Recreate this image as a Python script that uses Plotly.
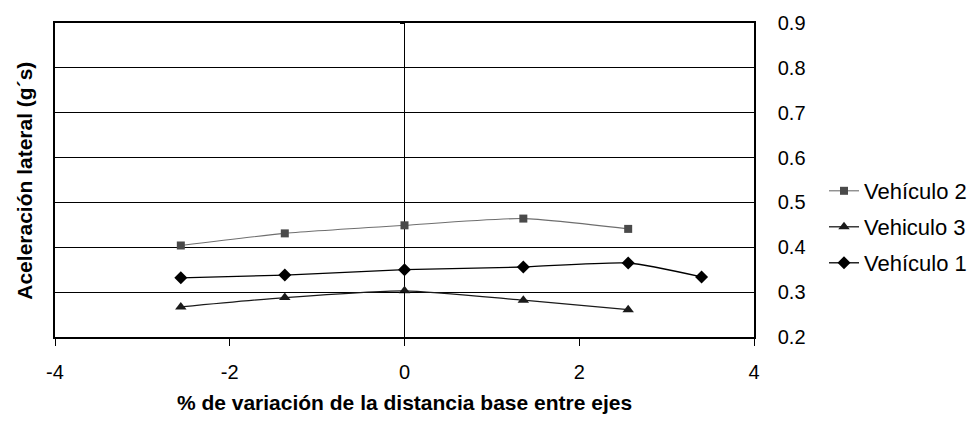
import plotly.graph_objects as go

x_vals = [-2.56, -1.37, 0.0, 1.36, 2.56]
x_v1 = [-2.56, -1.37, 0.0, 1.36, 2.56, 3.40]
v2 = [0.404, 0.431, 0.449, 0.464, 0.441]
v3 = [0.267, 0.288, 0.303, 0.282, 0.261]
v1 = [0.332, 0.338, 0.350, 0.356, 0.365, 0.334]
names = ["Vehículo 2", "Vehiculo 3", "Vehículo 1"]

FONT = "Liberation Sans, Arial, sans-serif"
W, H = 969, 423

fig = go.Figure()
fig.add_trace(go.Scatter(x=x_vals, y=v2, name=names[0], mode="lines+markers",
                         line=dict(color="#6e6e6e", width=1.1, shape="spline", smoothing=0.6),
                         marker=dict(symbol="square", size=8, color="#4a4a4a"), legend="legend"))
fig.add_trace(go.Scatter(x=x_vals, y=v3, name=names[1], mode="lines+markers",
                         line=dict(color="#1a1a1a", width=1.3, shape="spline", smoothing=0.6),
                         marker=dict(symbol="triangle-up", size=10, color="#1a1a1a"), legend="legend2"))
fig.add_trace(go.Scatter(x=x_v1, y=v1, name=names[2], mode="lines+markers",
                         line=dict(color="#000000", width=1.3, shape="spline", smoothing=0.6),
                         marker=dict(symbol="diamond", size=10, color="#000000"), legend="legend3"))

leg_common = dict(font=dict(family=FONT, size=22, color="black"), bgcolor="rgba(0,0,0,0)",
                  xref="container", yref="container",
                  xanchor="left", yanchor="middle", x=824 / W, borderwidth=0)

def ypos(px):
    return (344 - px) / (344 - 21)

def ycont(px):
    return 1 - px / H

fig.update_layout(
    width=W, height=H,
    margin=dict(l=55, r=215, t=21, b=79),
    paper_bgcolor="white", plot_bgcolor="white",
    font=dict(family=FONT, size=20, color="black"),
    legend=dict(**leg_common, y=ycont(191)),
    legend2=dict(**leg_common, y=ycont(227)),
    legend3=dict(**leg_common, y=ycont(263)),
    xaxis=dict(range=[-4, 4], tickvals=[-4, -2, 0, 2, 4], ticktext=["-4", "-2", "0", "2", "4"],
               ticks="outside", ticklen=7, tickcolor="black", tickwidth=1,
               showgrid=False, zeroline=True, zerolinecolor="black", zerolinewidth=1,
               showline=True, linecolor="black", linewidth=1.5, mirror=True,
               tickfont=dict(size=20), ticklabelstandoff=9,
               title=dict(text="<b>% de variación de la distancia base entre ejes</b>",
                          font=dict(size=21), standoff=14)),
    yaxis=dict(range=[0.2, 0.9], tickvals=[0.2, 0.3, 0.4, 0.5, 0.6, 0.7, 0.8, 0.9],
               ticktext=["0.2", "0.3", "0.4", "0.5", "0.6", "0.7", "0.8", "0.9"],
               side="right", ticks="", showgrid=True, gridcolor="black", gridwidth=1,
               zeroline=False, showline=True, linecolor="black", linewidth=1.5, mirror=True,
               tickfont=dict(size=20), ticklabelstandoff=18),
    yaxis2=dict(range=[0.2, 0.9], overlaying="y", anchor="free", position=0.5, side="left",
                tickvals=[0.2, 0.3, 0.4, 0.5, 0.6, 0.7, 0.8, 0.9], showticklabels=False,
                ticks="outside", ticklen=5, tickcolor="black", showgrid=False, zeroline=False,
                showline=False),
    annotations=[dict(text="<b>Aceleración lateral (g´s)</b>", textangle=-90,
                      xref="paper", yref="paper", x=-0.044, y=ypos(183), xanchor="center",
                      yanchor="middle", showarrow=False, font=dict(size=21))],
)
# invisible trace so yaxis2 renders
fig.add_trace(go.Scatter(x=[0], y=[0.5], yaxis="y2", mode="markers", marker=dict(opacity=0),
                         showlegend=False, hoverinfo="skip"))

fig.write_html("out.html")
